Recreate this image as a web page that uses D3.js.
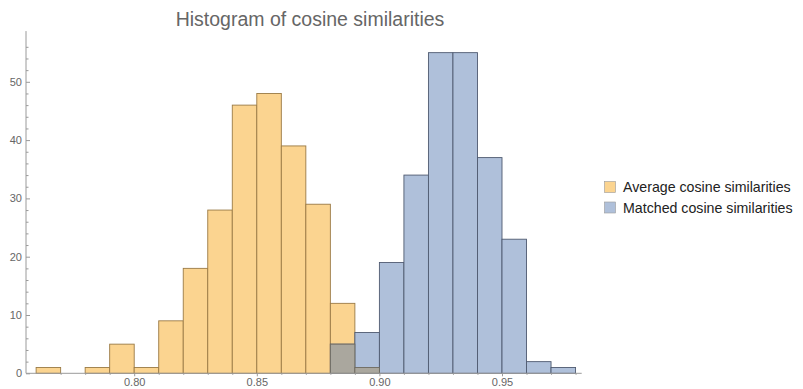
<!DOCTYPE html>
<html>
<head>
<meta charset="utf-8">
<script src="https://cdn.jsdelivr.net/npm/d3@7"></script>
<style>
  body { margin: 0; background: #fff; }
  text { font-family: "Liberation Sans", Arial, sans-serif; }
</style>
</head>
<body>
<svg id="chart"></svg>
<script>
// bin starts (width 0.01) and counts
const binStarts = [0.76, 0.77, 0.78, 0.79, 0.80, 0.81, 0.82, 0.83, 0.84, 0.85, 0.86, 0.87, 0.88, 0.89,
                   0.90, 0.91, 0.92, 0.93, 0.94, 0.95, 0.96, 0.97];
const averageCounts = [1, 0, 1, 5, 1, 9, 18, 28, 46, 48, 39, 29, 12, 1, 0, 0, 0, 0, 0, 0, 0, 0];
const matchedCounts = [0, 0, 0, 0, 0, 0, 0, 0, 0, 0, 0, 0, 5, 7, 19, 34, 55, 55, 37, 23, 2, 1];
const xTicks = [0.80, 0.85, 0.90, 0.95];
const yTicks = [0, 10, 20, 30, 40, 50];
const seriesNames = ["Average cosine similarities", "Matched cosine similarities"];
const binWidth = 0.01;

const width = 803, height = 389;
const svg = d3.select("#chart").attr("width", width).attr("height", height);

const x = d3.scaleLinear().domain([0.80, 0.85]).range([134.2, 256.8]);
const y = d3.scaleLinear().domain([0, 10]).range([373.3, 315]);

const orange = "#fbd490", orangeStroke = "#9a7a45";
const blue = "#afc0da", blueStroke = "#4f5a70";
const overlap = "#aaa79e";

const bins = binStarts.map((b, i) => ({ x0: b, a: averageCounts[i], m: matchedCounts[i] }));

const g = svg.append("g");

// orange bars
g.selectAll("rect.avg").data(bins.filter(d => d.a > 0)).enter().append("rect")
  .attr("x", d => x(d.x0)).attr("width", d => x(d.x0 + binWidth) - x(d.x0))
  .attr("y", d => y(d.a)).attr("height", d => y(0) - y(d.a))
  .attr("fill", orange).attr("stroke", orangeStroke).attr("stroke-width", 0.9);

// blue bars
g.selectAll("rect.mat").data(bins.filter(d => d.m > 0)).enter().append("rect")
  .attr("x", d => x(d.x0)).attr("width", d => x(d.x0 + binWidth) - x(d.x0))
  .attr("y", d => y(d.m)).attr("height", d => y(0) - y(d.m))
  .attr("fill", blue).attr("stroke", blueStroke).attr("stroke-width", 0.9);

// overlap where both series have counts
g.selectAll("rect.ov").data(bins.filter(d => d.a > 0 && d.m > 0)).enter().append("rect")
  .attr("x", d => x(d.x0)).attr("width", d => x(d.x0 + binWidth) - x(d.x0))
  .attr("y", d => y(Math.min(d.a, d.m))).attr("height", d => y(0) - y(Math.min(d.a, d.m)))
  .attr("fill", overlap).attr("stroke", "#6e6a60").attr("stroke-width", 0.9);

// axes
const axisColor = "#9a9a9a", labelColor = "#666";
const xAxis = svg.append("g").attr("transform", `translate(0,${y(0)})`)
  .call(d3.axisBottom(x).tickValues(xTicks).tickFormat(d3.format(".2f")).tickSize(3).tickSizeOuter(0));
xAxis.select(".domain").attr("d", `M26,0H${x(0.9825)}`);

const xMinor = svg.append("g").attr("transform", `translate(0,${y(0)})`)
  .call(d3.axisBottom(x).tickValues(d3.range(0.77, 0.985, 0.01).filter(v => !xTicks.some(t => Math.abs(t - v) < 1e-6)))
    .tickFormat("").tickSize(1.5));
xMinor.select(".domain").remove();

const yAxis = svg.append("g").attr("transform", "translate(26,0)")
  .call(d3.axisLeft(y).tickValues(yTicks).tickSize(-4).tickSizeOuter(0));
yAxis.select(".domain").attr("d", `M0,${y(0)}V${y(58.7)}`);
yAxis.selectAll(".tick line").attr("x1", 0).attr("x2", 4);
yAxis.selectAll(".tick text").attr("x", -4);

const yMinor = svg.append("g").attr("transform", "translate(26,0)")
  .call(d3.axisLeft(y).tickValues(d3.range(2, 58, 2).filter(v => v % 10 !== 0)).tickFormat("").tickSize(0));
yMinor.selectAll(".tick line").attr("x1", 0).attr("x2", 2.5);
yMinor.select(".domain").remove();

svg.selectAll(".domain, .tick line").attr("stroke", axisColor);
svg.selectAll(".tick text").attr("fill", labelColor).attr("font-size", 11)
  .attr("font-family", "'Liberation Sans', Arial, sans-serif");
xAxis.selectAll(".tick text").attr("y", 5).attr("dy", "0.71em");

// title
svg.append("text").attr("x", 310).attr("y", 26).attr("text-anchor", "middle")
  .attr("fill", "#666").attr("font-size", 19.5).text("Histogram of cosine similarities");

// legend
const legend = svg.append("g").attr("transform", "translate(604,187)");
const legendColors = [[orange, orangeStroke], [blue, blueStroke]];
seriesNames.forEach((name, i) => {
  const row = legend.append("g").attr("transform", `translate(0,${i * 20.5})`);
  row.append("rect").attr("x", 0.5).attr("y", -5.5).attr("width", 11).attr("height", 11)
    .attr("fill", legendColors[i][0]).attr("stroke", "#999").attr("stroke-width", 0.6);
  row.append("text").attr("x", 19).attr("y", 0).attr("dy", "0.36em")
    .attr("fill", "#222").attr("font-size", 14.2).text(name);
});
</script>
</body>
</html>
